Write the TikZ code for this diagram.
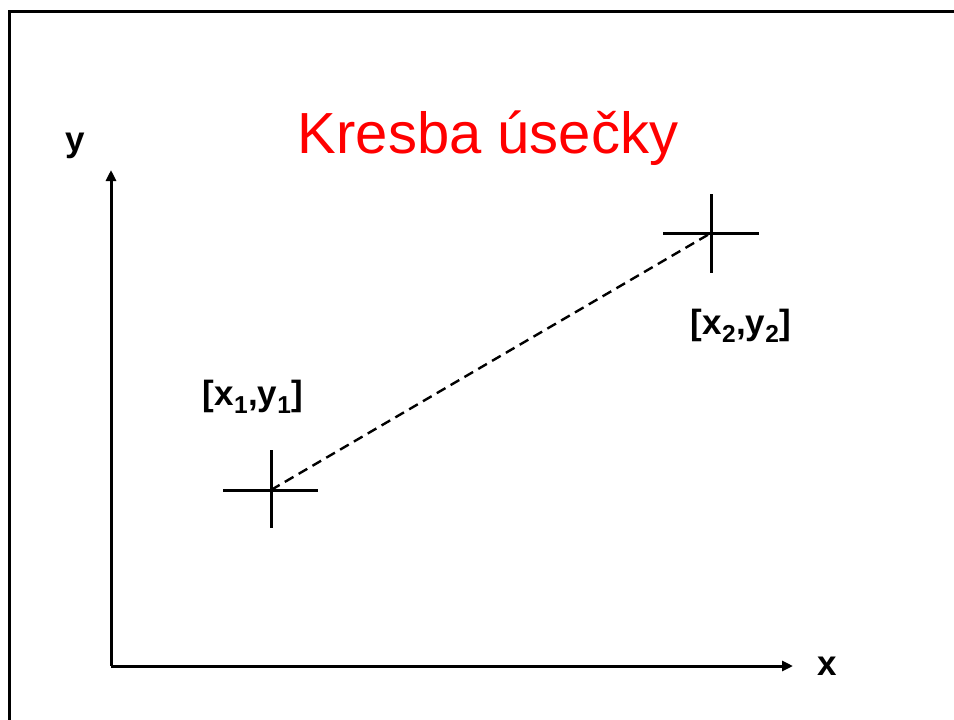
\documentclass[tikz,border=0pt]{standalone}
\usepackage{fontspec}
\setmainfont{Liberation Sans}
\usetikzlibrary{arrows.meta}
\definecolor{titlered}{RGB}{255,0,0}
\tikzset{
  axis/.style={line width=3pt,-{Triangle[length=11pt,width=10pt]}},
  crossline/.style={line width=3pt},
  seg/.style={line width=2.4pt,dash pattern=on 10pt off 6pt},
  lbl/.style={font=\fontsize{35}{40}\selectfont\bfseries,inner sep=0pt},
  frame/.style={line width=3pt}
}
\begin{document}
\begin{tikzpicture}[x=1pt,y=-1pt]
\useasboundingbox (0,0) rectangle (954,720);
\draw[frame] (9,740) -- (9,11) -- (970,11);
\coordinate (O) at (111,666);
\coordinate (Ytip) at (111,170);
\coordinate (Xtip) at (793,666);
\draw[axis] (O) -- (Ytip);
\draw[axis] (O) -- (Xtip);
\node[lbl] (xl) at (827,666) {x};
\node[lbl] (yl) at (75,146) {y};
\node[font=\fontsize{58}{62}\selectfont,text=titlered,inner sep=0pt] (title) at (488,138) {Kresba úsečky};
\coordinate (P1) at (271,490);
\coordinate (P2) at (711,233);
\draw[crossline] (223,490) -- (318,490);
\draw[crossline] (271,450) -- (271,528);
\draw[crossline] (663,233) -- (759,233);
\draw[crossline] (711,194) -- (711,273);
\draw[seg] (P1) -- (P2);
\node[lbl] (l1) at (253,397) {[x\textsubscript{1},y\textsubscript{1}]};
\node[lbl] (l2) at (741,326) {[x\textsubscript{2},y\textsubscript{2}]};
\end{tikzpicture}
\end{document}
